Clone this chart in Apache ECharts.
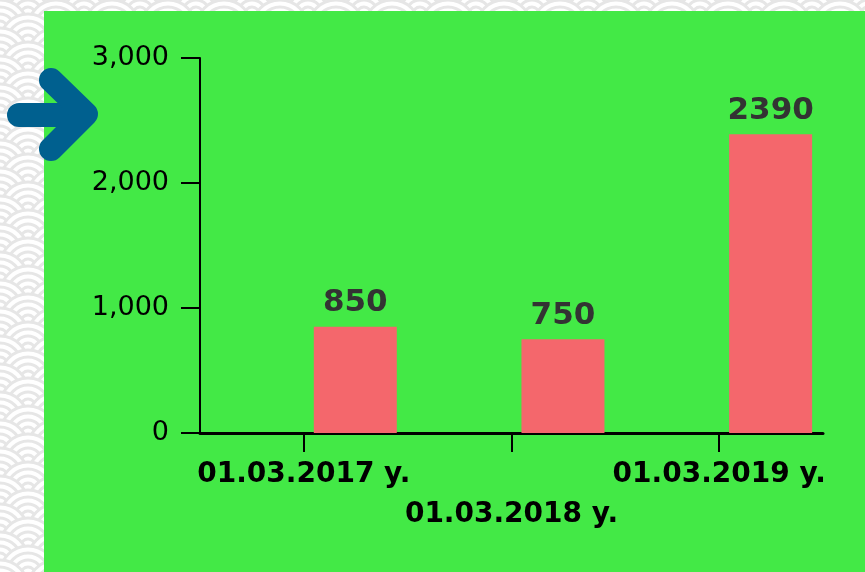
<!DOCTYPE html>
<html>
<head>
<meta charset="utf-8">
<script src="https://cdn.jsdelivr.net/npm/echarts@6/dist/echarts.min.js"></script>
<style>
  html, body { margin: 0; padding: 0; background: #ffffff; }
  #chart { width: 865px; height: 572px; }
</style>
</head>
<body>
<div id="chart"></div>
<script>
// chart data
var categories = ['01.03.2017 y.', '01.03.2018 y.', '01.03.2019 y.'];
var values = [850, 750, 2390];
var blanks = [null, null, null];   // empty slot, pushes the bars right of the ticks
var yTicks = [0, 1000, 2000, 3000];

// decoration: seigaiha wave pattern behind the green panel
var deco = [];
var R = 28;
for (var row = 0; row < 45; row++) {
    var cy = row * 14;
    var shift = (row % 2) ? R : 0;
    for (var col = -1; col < 17; col++) {
        var cx = col * 56 + shift;
        if (cx > 80 && cy > 45) continue;
        [R, R - 7, R - 14, R - 21].forEach(function (r) {
            deco.push({
                type: 'circle', z: -30, silent: true,
                shape: { cx: cx, cy: cy, r: r },
                style: { fill: '#ffffff', stroke: '#e6e6e6', lineWidth: 3 }
            });
        });
    }
}
deco.push({
    type: 'rect', z: -20, silent: true,
    shape: { x: 44, y: 11, width: 821, height: 561 },
    style: { fill: '#43e946' }
});
// blue arrow
deco.push({
    type: 'polyline', z: 20, silent: true,
    shape: { points: [[19, 115], [84, 115]] },
    style: { stroke: '#00608f', lineWidth: 24, lineCap: 'round', fill: null }
});
deco.push({
    type: 'polyline', z: 20, silent: true,
    shape: { points: [[51, 80], [86, 114], [51, 149]] },
    style: { stroke: '#00608f', lineWidth: 24, lineCap: 'round', lineJoin: 'round', fill: null }
});

var myChart = echarts.init(document.getElementById('chart'));

var option = {
    backgroundColor: '#ffffff',
    animation: false,
    graphic: { elements: deco },
    grid: { left: 200, right: 42, top: 58, bottom: 139 },
    xAxis: {
        type: 'category',
        data: categories,
        axisLine: { lineStyle: { color: '#000000', width: 3 } },
        axisTick: { show: true, alignWithLabel: true, length: 19, lineStyle: { color: '#000000', width: 2 } },
        axisLabel: {
            interval: 0,
            margin: 22,
            color: '#000000',
            fontFamily: 'DejaVu Sans',
            fontWeight: 'bold',
            fontSize: 28,
            lineHeight: 40,
            formatter: function (v, i) { return i === 1 ? '\n' + v : v; }
        }
    },
    yAxis: {
        type: 'value',
        min: yTicks[0],
        max: yTicks[yTicks.length - 1],
        interval: 1000,
        axisLine: { show: true, lineStyle: { color: '#000000', width: 2 } },
        axisTick: { show: true, length: 19, lineStyle: { color: '#000000', width: 2 } },
        splitLine: { show: false },
        axisLabel: {
            margin: 31,
            color: '#000000',
            fontFamily: 'DejaVu Sans',
            fontSize: 27,
            formatter: function (v) { return v.toLocaleString('en-US'); }
        }
    },
    series: [
        {
            type: 'bar',
            data: blanks,
            barWidth: 83,
            barGap: '24%'
        },
        {
            type: 'bar',
            data: values,
            barWidth: 83,
            itemStyle: { color: '#f4676c' },
            label: {
                show: true,
                position: 'top',
                distance: 8,
                color: '#333333',
                fontFamily: 'DejaVu Sans',
                fontWeight: 'bold',
                fontSize: 31
            }
        }
    ]
};

myChart.setOption(option);
</script>
</body>
</html>
